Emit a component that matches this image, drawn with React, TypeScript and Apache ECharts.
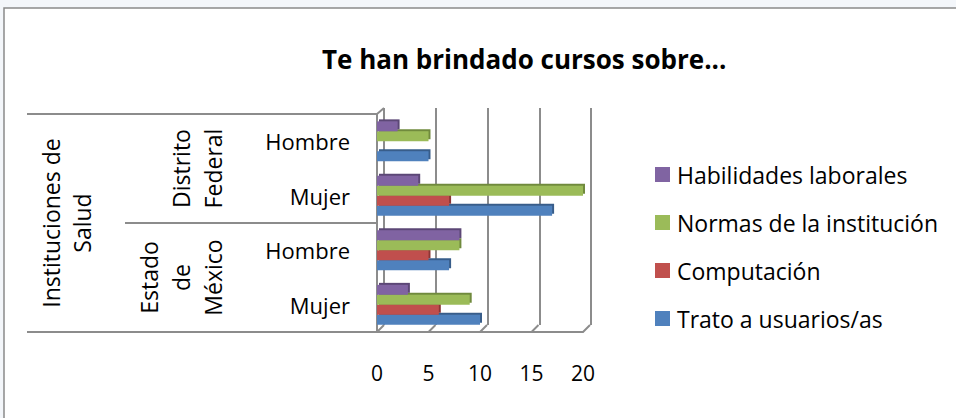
import React, { useEffect, useRef } from "react";
import * as echarts from "echarts";

// Categories (top to bottom as displayed)
const categoryKeys = ["DF|Hombre", "DF|Mujer", "EM|Hombre", "EM|Mujer"];
const stateLabels = ["Distrito\nFederal", "Estado\nde\nMéxico"];
const groupLabels = ["Instituciones de\nSalud"];

const seriesNames = [
  "Habilidades laborales",
  "Normas de la institución",
  "Computación",
  "Trato a usuarios/as",
];
const habilidades = [2, 4, 8, 3];
const normas = [5, 20, 8, 9];
const computacion = [0, 7, 5, 6];
const trato = [5, 17, 7, 10];
const xTicks = [0, 5, 10, 15, 20];

const colors = ["#8064A2", "#9BBB59", "#C0504D", "#4F81BD"];
const darkColors = ["#5c4776", "#6f8a3c", "#8c3634", "#385d8a"];
const FONT = "Open Sans";
const GRID_COLOR = "#8c8c8c";

export default function App() {
  const ref = useRef<HTMLDivElement>(null);
  useEffect(() => {
    if (!ref.current) return;
    const chart = echarts.init(ref.current, undefined, { renderer: "svg" });
    const values = [habilidades, normas, computacion, trato];
    const option: any = {
      animation: false,
      backgroundColor: "#f3f6fa",
      textStyle: { fontFamily: FONT },
      graphic: [
        {
          type: "rect",
          z: -10,
          silent: true,
          shape: { x: 4, y: 8, width: 1000, height: 500 },
          style: { fill: "#ffffff", stroke: "#8a8a8a", lineWidth: 1.5 },
        },
      ],
      title: {
        text: "Te han brindado cursos sobre...",
        left: 317,
        top: 41,
        textStyle: { fontFamily: FONT, fontSize: 26, fontWeight: "bold", color: "#000" },
      },
      legend: {
        orient: "vertical",
        left: 650,
        top: 158,
        itemWidth: 15,
        itemHeight: 15,
        itemGap: 25,
        icon: "rect",
        data: seriesNames,
        textStyle: { fontFamily: FONT, fontSize: 23, color: "#000", padding: [0, 0, 0, 2] },
      },
      grid: [
        { left: 377, top: 114, width: 206, height: 218, outerBoundsMode: "none" },
        { left: 384, top: 108, width: 207, height: 217, outerBoundsMode: "none" },
      ],
      xAxis: [
        {
          type: "value",
          gridIndex: 0,
          min: 0,
          max: 20,
          interval: 5,
          axisLine: { show: true, lineStyle: { color: GRID_COLOR, width: 2 } },
          axisTick: { show: false },
          splitLine: { show: false },
          axisLabel: { fontFamily: FONT, fontSize: 21, color: "#000", margin: 30 },
        },
        {
          type: "value",
          gridIndex: 1,
          min: 0,
          max: 20,
          interval: 5,
          axisLine: { show: false },
          axisTick: { show: false },
          axisLabel: { show: false },
          splitLine: { show: true, lineStyle: { color: GRID_COLOR, width: 2 } },
        },
      ],
      yAxis: [
        {
          type: "category",
          gridIndex: 0,
          inverse: true,
          data: categoryKeys,
          axisLine: { show: true, lineStyle: { color: GRID_COLOR, width: 2 } },
          axisTick: { show: false },
          axisLabel: {
            interval: 0,
            formatter: (v: string) => v.split("|")[1],
            fontFamily: FONT,
            fontSize: 22,
            color: "#000",
            margin: 27,
          },
        },
        {
          type: "category",
          gridIndex: 0,
          inverse: true,
          data: stateLabels,
          position: "left",
          axisLine: { show: false },
          axisTick: { show: true, length: 252, lineStyle: { color: GRID_COLOR, width: 2 } },
          axisLabel: {
            interval: 0,
            rotate: 90,
            align: "center",
            verticalAlign: "bottom",
            margin: 148,
            lineHeight: 32,
            fontFamily: FONT,
            fontSize: 23,
            color: "#000",
          },
        },
        {
          type: "category",
          gridIndex: 0,
          inverse: true,
          data: groupLabels,
          position: "left",
          axisLine: { show: false },
          axisTick: { show: true, length: 350, lineStyle: { color: GRID_COLOR, width: 2 } },
          axisLabel: {
            interval: 0,
            rotate: 90,
            align: "center",
            verticalAlign: "bottom",
            margin: 280,
            lineHeight: 31,
            fontFamily: FONT,
            fontSize: 23,
            color: "#000",
          },
        },
        { type: "category", gridIndex: 1, show: false, data: categoryKeys },
      ],
      series: [
        ...seriesNames.map((name, i) => ({
          name,
          type: "bar",
          xAxisIndex: 0,
          yAxisIndex: 0,
          data: values[i],
          barGap: "0%",
          barCategoryGap: "27%",
          itemStyle: {
            color: colors[i],
            shadowColor: darkColors[i],
            shadowOffsetX: 2,
            shadowOffsetY: -2,
            shadowBlur: 0,
          },
          z: 10 - i,
        })),
        {
          type: "custom",
          name: "floor",
          silent: true,
          xAxisIndex: 0,
          yAxisIndex: 0,
          data: xTicks.map((t) => [t, 0]),
          encode: { x: 0, y: 1 },
          z: 1,
          renderItem: (params: any, api: any) => {
            const v = api.value(0);
            const x = api.coord([v, 0])[0];
            const cs = params.coordSys;
            const bottom = cs.y + cs.height;
            const children: any[] = [
              {
                type: "line",
                shape: { x1: x, y1: bottom, x2: x + 7, y2: bottom - 7 },
                style: { stroke: GRID_COLOR, lineWidth: 2 },
              },
            ];
            if (v === 0) {
              children.push({
                type: "line",
                shape: { x1: x, y1: cs.y, x2: x + 7, y2: cs.y - 6 },
                style: { stroke: GRID_COLOR, lineWidth: 2 },
              });
            }
            return { type: "group", children };
          },
        },
      ],
    };
    chart.setOption(option);
    return () => chart.dispose();
  }, []);
  return (
    <div
      ref={ref}
      style={{ position: "fixed", left: 0, top: 0, width: 956, height: 418 }}
    />
  );
}
